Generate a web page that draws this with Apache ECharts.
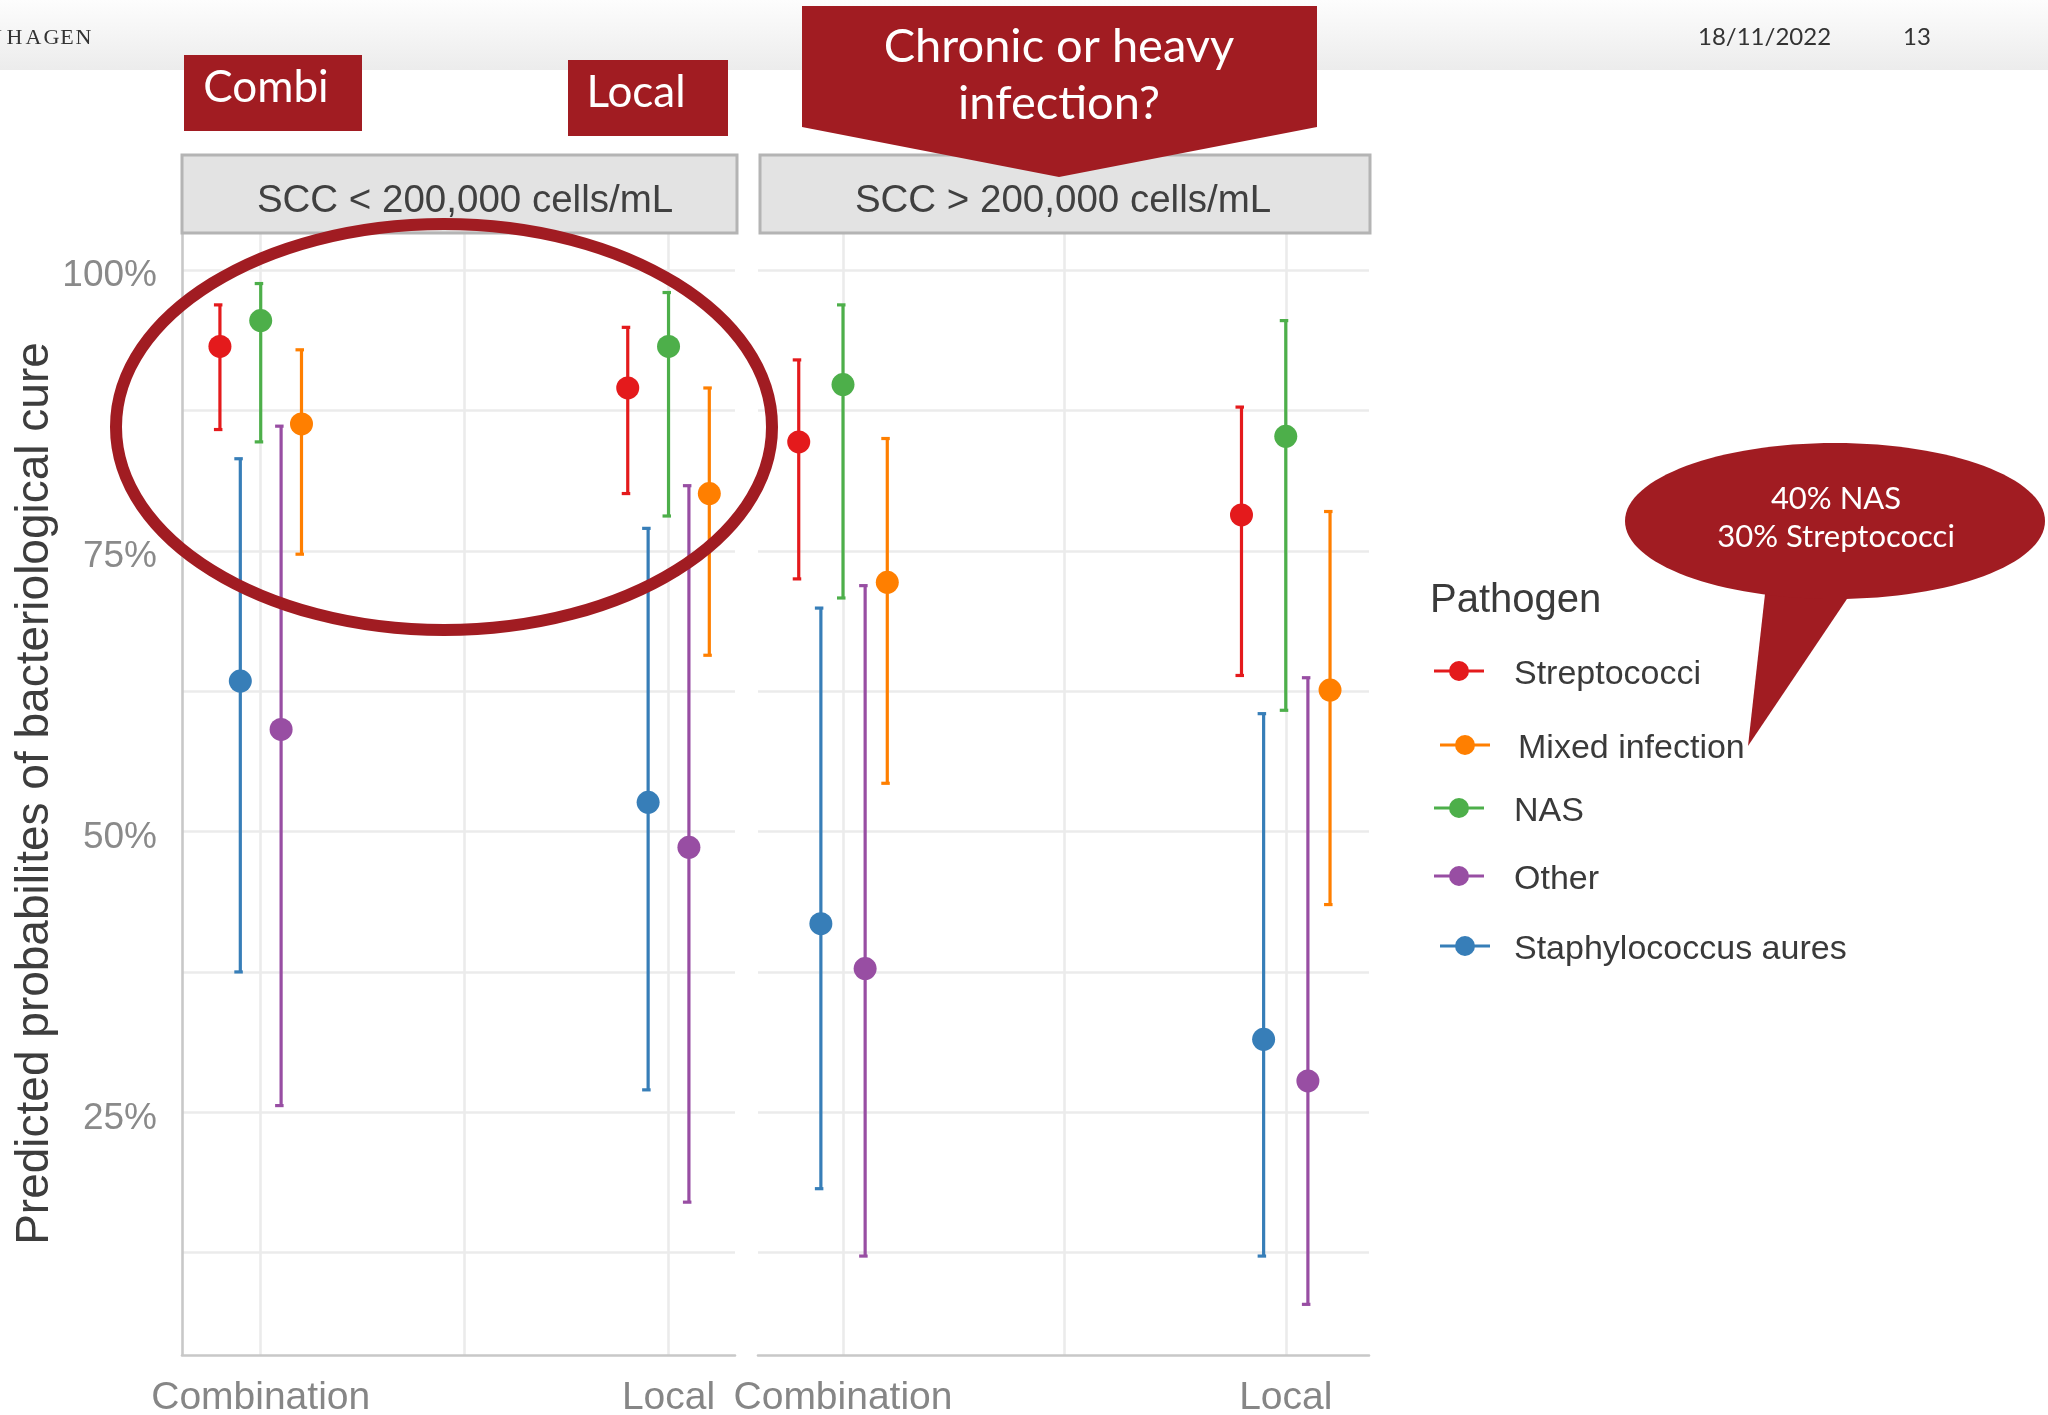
<!DOCTYPE html>
<html>
<head>
<meta charset="utf-8">
<title>Predicted probabilites of bacteriological cure</title>
<script src="https://cdn.jsdelivr.net/npm/echarts@6/dist/echarts.min.js"></script>
<style>
html, body { margin: 0; padding: 0; background: #fff; }
#main { width: 2048px; height: 1415px; }
</style>
</head>
<body>
<div id="main"></div>
<script>
// facets, x categories and groups
var panels = ['SCC < 200,000 cells/mL', 'SCC > 200,000 cells/mL'];
var treatments = ['Combination', 'Local'];
var pathogens = ['Streptococci', 'Mixed infection', 'NAS', 'Other', 'Staphylococcus aures'];
var yLabelTicks = [25, 50, 75, 100];
var yGridTicks = [12.5, 25, 37.5, 50, 62.5, 75, 87.5, 100];

// predicted probability (%) with lower / upper limit
// order: <200k Combination, <200k Local, >200k Combination, >200k Local
var strepEst = [93.2, 89.5, 84.7, 78.2];
var strepLow = [85.8, 80.1, 72.5, 63.9];
var strepHigh = [96.9, 94.9, 92.0, 87.8];

var mixedEst = [86.3, 80.1, 72.2, 62.6];
var mixedLow = [74.7, 65.7, 54.3, 43.5];
var mixedHigh = [92.9, 89.5, 85.0, 78.5];

var nasEst = [95.5, 93.2, 89.8, 85.2];
var nasLow = [84.7, 78.1, 70.8, 60.8];
var nasHigh = [98.8, 98.0, 96.9, 95.5];

var otherEst = [59.1, 48.6, 37.8, 27.8];
var otherLow = [25.6, 17.0, 12.2, 7.9];
var otherHigh = [86.1, 80.8, 71.9, 63.7];

var staphEst = [63.4, 52.6, 41.8, 31.5];
var staphLow = [37.5, 27.0, 18.2, 12.2];
var staphHigh = [83.2, 77.0, 69.9, 60.5];

var estimates = [strepEst, mixedEst, nasEst, otherEst, staphEst];
var lows = [strepLow, mixedLow, nasLow, otherLow, staphLow];
var highs = [strepHigh, mixedHigh, nasHigh, otherHigh, staphHigh];

// styling / layout
var colors = ['#e41a1c', '#ff7f00', '#4daf4a', '#984ea3', '#377eb8'];
var dodge = [-0.1, 0.1, 0, 0.05, -0.05];
var darkRed = '#a11c22';
var chartFont = 'Liberation Sans';
var slideFont = 'Lato';

var gridBoxes = [
	{left: 182, top: 232, width: 553, height: 1123, xMin: 0.807, xMax: 2.163},
	{left: 758, top: 232, width: 611, height: 1123, xMin: 0.808, xMax: 2.188}
];
var legendLeft = [1434, 1440, 1434, 1434, 1440];
var legendMid = [670, 744, 807, 875, 945];
var legendTextGap = [25, 23, 25, 25, 19];

var myChart = echarts.init(document.getElementById('main'), null, {renderer: 'canvas'});

//误差线 + 点
function renderErrorBar(params, api){
	var x = api.value(0);
	var mid = api.coord([x, api.value(1)]);
	var low = api.coord([x, api.value(2)]);
	var high = api.coord([x, api.value(3)]);
	var color = api.visual('color');
	function st(){ return {stroke: color, lineWidth: 3.2}; }
	return {
		type: 'group',
		children: [
			{type: 'line', shape: {x1: high[0], y1: high[1], x2: low[0], y2: low[1]}, style: st()},
			{type: 'line', shape: {x1: high[0] - 6, y1: high[1], x2: high[0] + 2.5, y2: high[1]}, style: st()},
			{type: 'line', shape: {x1: low[0] - 6, y1: low[1], x2: low[0] + 2.5, y2: low[1]}, style: st()},
			{type: 'circle', shape: {cx: mid[0], cy: mid[1], r: 11.5}, style: {fill: color}}
		]
	};
}

var grids = [], xAxes = [], yAxes = [], series = [];
gridBoxes.forEach(function(b, pi){
	grids.push({left: b.left, top: b.top, width: b.width, height: b.height, containLabel: false, outerBoundsMode: 'none'});
	xAxes.push({
		type: 'value', gridIndex: pi, min: b.xMin, max: b.xMax,
		axisLine: {show: true, onZero: false, lineStyle: {color: '#c8c8c8', width: 2.6}},
		axisTick: {show: false, customValues: [1, 1.5, 2]},
		axisLabel: {
			customValues: [1, 2], margin: 24, fontSize: 39, fontFamily: chartFont, color: '#868686',
			formatter: function(v){ return treatments[Math.round(v) - 1]; }
		},
		splitLine: {show: true, lineStyle: {color: '#ebebeb', width: 2.6}}
	});
	yAxes.push({
		type: 'value', gridIndex: pi, min: 3.39, max: 103.39,
		name: pi === 0 ? 'Predicted probabilites of bacteriological cure' : '',
		nameLocation: 'middle', nameRotate: 90, nameGap: 121,
		nameTextStyle: {fontSize: 46, fontFamily: chartFont, color: '#3d3d3d'},
		axisLine: {show: pi === 0, lineStyle: {color: '#c8c8c8', width: 2.6}},
		axisTick: {show: false, customValues: yGridTicks},
		axisLabel: {
			show: pi === 0, customValues: yLabelTicks, margin: 25,
			formatter: function(v){ return '{p|' + v + '%}'; },
			rich: {p: {fontSize: 37, fontFamily: chartFont, color: '#8a8a8a', padding: [12, 0, 0, 0]}}
		},
		splitLine: {show: true, lineStyle: {color: '#ebebeb', width: 2.6}}
	});
	pathogens.forEach(function(name, k){
		var data = treatments.map(function(t, ti){
			var idx = pi * 2 + ti;
			return [ti + 1 + dodge[k], estimates[k][idx], lows[k][idx], highs[k][idx]];
		});
		series.push({
			type: 'custom', name: name, xAxisIndex: pi, yAxisIndex: pi,
			itemStyle: {color: colors[k]},
			encode: {x: 0, y: [1, 2, 3]},
			renderItem: renderErrorBar,
			data: data, z: 3
		});
	});
});

var keyIcon = 'path://M0,8.4L50,8.4L50,11.6L0,11.6Z M25,0A10,10 0 1 1 25,20A10,10 0 1 1 25,0Z';
var legends = pathogens.map(function(name, k){
	return {
		data: [name], left: legendLeft[k], top: legendMid[k] - 12, padding: 0,
		itemWidth: 50, itemHeight: 20, icon: keyIcon,
		itemStyle: {borderWidth: 0},
		formatter: '{t|{name}}',
		textStyle: {
			rich: {t: {fontSize: 34, fontFamily: chartFont, color: '#3a3a3a', padding: [8, 0, 0, legendTextGap[k]]}}
		}
	};
});

function txt(x, y, text, size, fill, family, align){
	return {
		type: 'text', x: x, y: y, z: 50,
		style: {text: text, fontSize: size, fontFamily: family, fill: fill, align: align || 'center', verticalAlign: 'middle'}
	};
}

var headerLetters = ['N', 'H', 'A', 'G', 'E', 'N'];
var headerLetterX = [-6, 14.5, 33.5, 51.5, 67, 83.5];

var elements = [
	{type: 'rect', z: -5, shape: {x: 0, y: 0, width: 2048, height: 70},
		style: {fill: new echarts.graphic.LinearGradient(0, 0, 0, 1, [{offset: 0, color: '#fdfdfd'}, {offset: 1, color: '#ececec'}])}},
	txt(1698, 37, '18/11/2022', 24, '#333', slideFont, 'left'),
	txt(1903, 37, '13', 24, '#333', slideFont, 'left'),
	// facet strips
	{type: 'rect', z: 5, shape: {x: 182, y: 155, width: 555, height: 78}, style: {fill: '#e3e3e3', stroke: '#b4b4b4', lineWidth: 3}},
	{type: 'rect', z: 5, shape: {x: 760, y: 155, width: 610, height: 78}, style: {fill: '#e3e3e3', stroke: '#b4b4b4', lineWidth: 3}},
	txt(465, 201, panels[0], 38.5, '#404040', chartFont),
	txt(1063, 201, panels[1], 38.5, '#404040', chartFont),
	txt(1430, 601, 'Pathogen', 40, '#3a3a3a', chartFont, 'left'),
	// annotations
	{type: 'rect', z: 40, shape: {x: 184, y: 55, width: 178, height: 76}, style: {fill: darkRed}},
	txt(266, 88, 'Combi', 44, '#fff', slideFont),
	{type: 'rect', z: 40, shape: {x: 568, y: 60, width: 160, height: 76}, style: {fill: darkRed}},
	txt(636, 93, 'Local', 44, '#fff', slideFont),
	{type: 'polygon', z: 40, shape: {points: [[802, 6], [1317, 6], [1317, 127], [1059, 177], [802, 127]]}, style: {fill: darkRed}},
	txt(1059, 47, 'Chronic or heavy', 47, '#fff', slideFont),
	txt(1059, 104, 'infection?', 47, '#fff', slideFont),
	{type: 'ellipse', z: 40, shape: {cx: 444, cy: 427, rx: 328, ry: 203}, style: {fill: 'none', stroke: darkRed, lineWidth: 12}},
	{type: 'polygon', z: 40, shape: {points: [[1766, 585], [1853, 590], [1748, 746]]}, style: {fill: darkRed}},
	{type: 'ellipse', z: 40, shape: {cx: 1835, cy: 521, rx: 210, ry: 78}, style: {fill: darkRed}},
	txt(1836, 499, '40% NAS', 31, '#fff', slideFont),
	txt(1836, 537, '30% Streptococci', 31, '#fff', slideFont)
];
headerLetters.forEach(function(c, i){
	elements.push(txt(headerLetterX[i], 38, c, 22, '#333', 'Liberation Serif'));
});

var option = {
	animation: false,
	backgroundColor: '#fff',
	grid: grids,
	xAxis: xAxes,
	yAxis: yAxes,
	legend: legends,
	graphic: {elements: elements},
	series: series
};
myChart.setOption(option);
</script>
</body>
</html>
